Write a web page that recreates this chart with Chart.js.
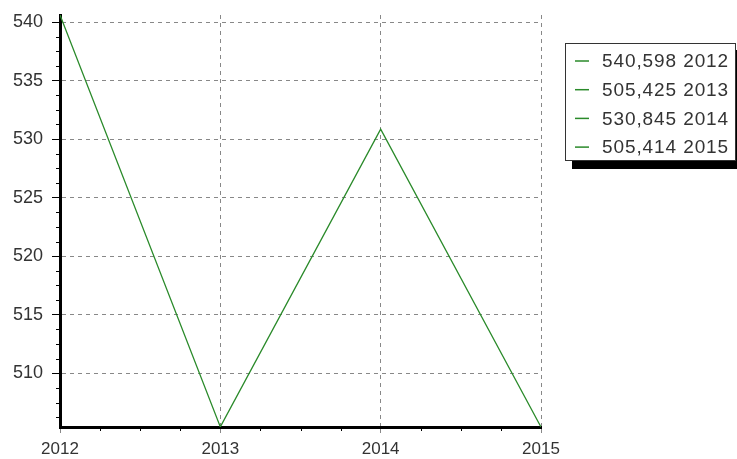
<!DOCTYPE html>
<html>
<head>
<meta charset="utf-8">
<script src="https://cdn.jsdelivr.net/npm/chart.js@4.4.0/dist/chart.umd.min.js"></script>
<style>
  html, body { margin: 0; padding: 0; background: #fff; }
  #wrap { width: 737px; height: 459px; }
</style>
</head>
<body>
<div id="wrap"><canvas id="myChart" width="737" height="459"></canvas></div>
<script>
// data
const years = [2012, 2013, 2014, 2015];
const values = [540.598, 505.425, 530.845, 505.414];
const yTicks = [510, 515, 520, 525, 530, 535, 540];
const legendLabels = ["540,598 2012", "505,425 2013", "530,845 2014", "505,414 2015"];

const lineColor = "#2a8a2a";
const textColor = "#333";
const family = "Arial, 'Liberation Sans', sans-serif";

// small minor ticks on both axes
const minorTicks = {
  id: "minorTicks",
  afterDraw(chart) {
    const c = chart.ctx, x = chart.scales.x, y = chart.scales.y;
    c.save();
    c.strokeStyle = "#000";
    c.lineWidth = 1;
    c.beginPath();
    for (let v = 510 - 3.75; v < 540.6; v += 1.25) {
      if (Math.abs(v / 5 - Math.round(v / 5)) < 1e-6) continue;
      const py = Math.round(y.getPixelForValue(v)) + 0.5;
      c.moveTo(x.left - 4, py); c.lineTo(x.left - 1, py);
    }
    for (let v = 2012.25; v < 2015; v += 0.25) {
      if (Math.abs(v - Math.round(v)) < 1e-6) continue;
      const px = Math.round(x.getPixelForValue(v)) + 0.5;
      c.moveTo(px, y.bottom + 1); c.lineTo(px, y.bottom + 4);
    }
    c.stroke();
    c.restore();
  }
};

// boxed legend with a black shadow, like the original
const boxLegend = {
  id: "boxLegend",
  afterDraw(chart) {
    const c = chart.ctx;
    const bx = 565, by = 43, bw = 170, bh = 117;
    c.save();
    c.fillStyle = "#000";
    c.fillRect(bx + 7, by + 7, bw + 5, bh + 2);
    c.fillStyle = "#fff";
    c.fillRect(bx, by, bw, bh);
    c.strokeStyle = "#333";
    c.lineWidth = 1;
    c.strokeRect(bx + 0.5, by + 0.5, bw, bh);
    c.font = "19px " + family;
    c.letterSpacing = "0.9px";
    c.textBaseline = "middle";
    c.fillStyle = textColor;
    legendLabels.forEach((t, i) => {
      const ty = by + 18 + i * 28.7;
      c.strokeStyle = lineColor;
      c.lineWidth = 1.5;
      c.beginPath();
      c.moveTo(bx + 10, ty); c.lineTo(bx + 24, ty);
      c.stroke();
      c.fillText(t, bx + 37, ty + 1);
    });
    c.restore();
  }
};

const ctx = document.getElementById("myChart").getContext("2d");
const myChart = new Chart(ctx, {
  type: "line",
  data: {
    datasets: [{
      label: "Series",
      data: years.map((yr, i) => ({ x: yr, y: values[i] })),
      borderColor: lineColor,
      borderWidth: 1.3,
      pointRadius: 0,
      tension: 0,
      fill: false,
    }],
  },
  options: {
    responsive: false,
    animation: false,
    devicePixelRatio: 1,
    layout: { padding: { top: 15, right: 196, bottom: 0, left: 0 } },
    plugins: { legend: { display: false }, tooltip: { enabled: false } },
    scales: {
      x: {
        type: "linear",
        min: 2012,
        max: 2015,
        afterBuildTicks: (scale) => { scale.ticks = years.map(v => ({ value: v })); },
        afterFit: (scale) => { scale.height = 32; },
        ticks: {
          color: textColor,
          font: { family: family, size: 17 },
          padding: 6,
          maxRotation: 0,
          callback: (v) => String(v),
        },
        grid: {
          color: "#888",
          lineWidth: 1,
          drawTicks: true,
          tickLength: 6,
          tickColor: "#888",
          tickWidth: 1,
        },
        border: { display: true, color: "#000", width: 3, dash: [4, 4] },
      },
      y: {
        min: 505.414,
        max: 540.598,
        afterBuildTicks: (scale) => { scale.ticks = yTicks.map(v => ({ value: v })); },
        afterFit: (scale) => {
          scale.width = 60;
          scale.paddingTop = 0;
          scale.paddingBottom = 0;
        },
        ticks: {
          color: textColor,
          font: { family: family, size: 18 },
          padding: 9,
          callback: (v) => String(v),
        },
        grid: {
          color: "#888",
          lineWidth: 1,
          drawTicks: true,
          tickLength: 8,
          tickColor: "#000",
          tickWidth: 1,
        },
        border: { display: true, color: "#000", width: 3, dash: [4, 4] },
      },
    },
  },
  plugins: [minorTicks, boxLegend],
});
</script>
</body>
</html>
